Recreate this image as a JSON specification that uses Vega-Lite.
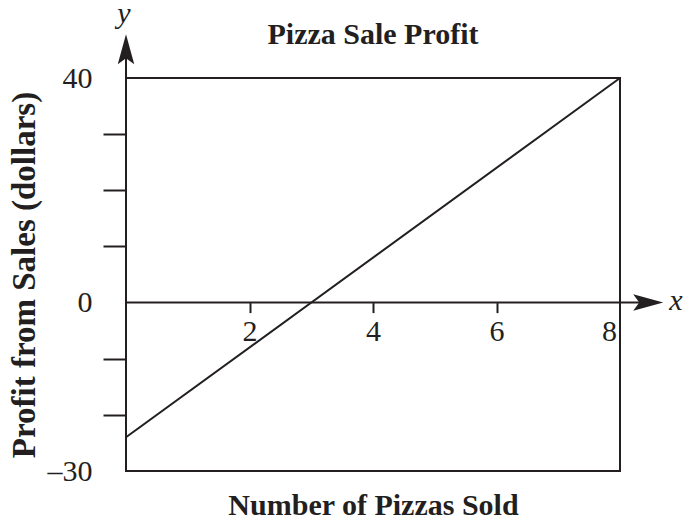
{
  "$schema": "https://vega.github.io/schema/vega-lite/v6.json",
  "width": 494,
  "height": 393,
  "autosize": {"type": "none"},
  "padding": {"left": 126, "top": 78, "right": 73, "bottom": 50},
  "background": "white",
  "config": {
    "view": {"stroke": "#231f20", "strokeWidth": 2},
    "font": "Liberation Serif",
    "axis": {"grid": false, "domain": false}
  },
  "title": {
    "text": "Pizza Sale Profit",
    "font": "Liberation Serif",
    "fontSize": 30,
    "fontWeight": "bold",
    "color": "#231f20",
    "anchor": "middle",
    "frame": "group",
    "offset": -51
  },
  "datasets": {
    "profit": [
      {"pizzas": 0, "profit": -24},
      {"pizzas": 8, "profit": 40}
    ],
    "axislines": [
      {"name": "x", "x0": 0, "x1": 8.5, "y0": 0, "y1": 0},
      {"name": "y", "x0": 0, "x1": 0, "y0": -30, "y1": 46}
    ],
    "arrows": [
      {"name": "x", "ax": 8.7, "ay": 0, "angle": 90},
      {"name": "y", "ax": 0, "ay": 47.8, "angle": 0}
    ]
  },
  "layer": [
    {
      "data": {"name": "axislines"},
      "mark": {"type": "rule", "color": "#231f20", "strokeWidth": 2},
      "encoding": {
        "x": {"field": "x0", "type": "quantitative"},
        "x2": {"field": "x1"},
        "y": {"field": "y0", "type": "quantitative"},
        "y2": {"field": "y1"}
      }
    },
    {
      "data": {"name": "arrows"},
      "mark": {
        "type": "point",
        "shape": "M0,0L0.55,2L0,1.6L-0.55,2Z",
        "filled": true,
        "opacity": 1,
        "color": "#231f20",
        "size": 900
      },
      "encoding": {
        "x": {"field": "ax", "type": "quantitative"},
        "y": {"field": "ay", "type": "quantitative"},
        "angle": {"field": "angle", "type": "quantitative", "scale": null}
      }
    },
    {
      "data": {"name": "arrows"},
      "transform": [{"filter": "datum.name == 'x'"}],
      "mark": {
        "type": "text",
        "text": "x",
        "font": "Liberation Serif",
        "fontStyle": "italic",
        "fontSize": 30,
        "align": "left",
        "baseline": "middle",
        "dx": 6,
        "dy": -2,
        "color": "#231f20"
      },
      "encoding": {
        "x": {"field": "ax", "type": "quantitative"},
        "y": {"field": "ay", "type": "quantitative"}
      }
    },
    {
      "data": {"name": "arrows"},
      "transform": [{"filter": "datum.name == 'y'"}],
      "mark": {
        "type": "text",
        "text": "y",
        "font": "Liberation Serif",
        "fontStyle": "italic",
        "fontSize": 30,
        "align": "center",
        "baseline": "alphabetic",
        "dx": -2,
        "dy": -11,
        "color": "#231f20"
      },
      "encoding": {
        "x": {"field": "ax", "type": "quantitative"},
        "y": {"field": "ay", "type": "quantitative"}
      }
    },
    {
      "data": {"name": "profit"},
      "mark": {"type": "line", "color": "#231f20", "strokeWidth": 2},
      "encoding": {
        "x": {
          "field": "pizzas",
          "type": "quantitative",
          "scale": {"domain": [0, 8], "nice": false, "zero": false},
          "axis": {
            "orient": "bottom",
            "offset": -168.4,
            "values": [2, 4, 6, 8],
            "format": "d",
            "tickSize": 10,
            "tickWidth": 2,
            "tickColor": "#231f20",
            "tickOpacity": {"condition": {"test": "datum.value == 8", "value": 0}, "value": 1},
            "labelFont": "Liberation Serif",
            "labelFontSize": 30,
            "labelColor": "#231f20",
            "labelPadding": 4,
            "labelFlush": false,
            "labelOverlap": false,
            "labelOffset": {"condition": {"test": "datum.value == 8", "value": -11}, "value": 0},
            "title": "Number of Pizzas Sold",
            "titleFont": "Liberation Serif",
            "titleFontSize": 30,
            "titleFontWeight": "bold",
            "titleColor": "#231f20",
            "titlePadding": 144
          }
        },
        "y": {
          "field": "profit",
          "type": "quantitative",
          "scale": {"domain": [-30, 40], "nice": false, "zero": false},
          "axis": {
            "values": [-30, -20, -10, 0, 10, 20, 30, 40],
            "tickSize": 23,
            "tickWidth": 2,
            "tickColor": "#231f20",
            "tickOpacity": {"condition": {"test": "datum.value == 40 || datum.value == 0 || datum.value == -30", "value": 0}, "value": 1},
            "labelExpr": "datum.value == 40 ? '40' : datum.value == 0 ? '0' : datum.value == -30 ? '–30' : ''",
            "labelFont": "Liberation Serif",
            "labelFontSize": 30,
            "labelColor": "#231f20",
            "labelPadding": 11,
            "labelOverlap": false,
            "labelBound": false,
            "title": "Profit from Sales (dollars)",
            "titleFont": "Liberation Serif",
            "titleFontSize": 33,
            "titleFontWeight": "bold",
            "titleColor": "#231f20",
            "titlePadding": 6
          }
        }
      }
    }
  ]
}
